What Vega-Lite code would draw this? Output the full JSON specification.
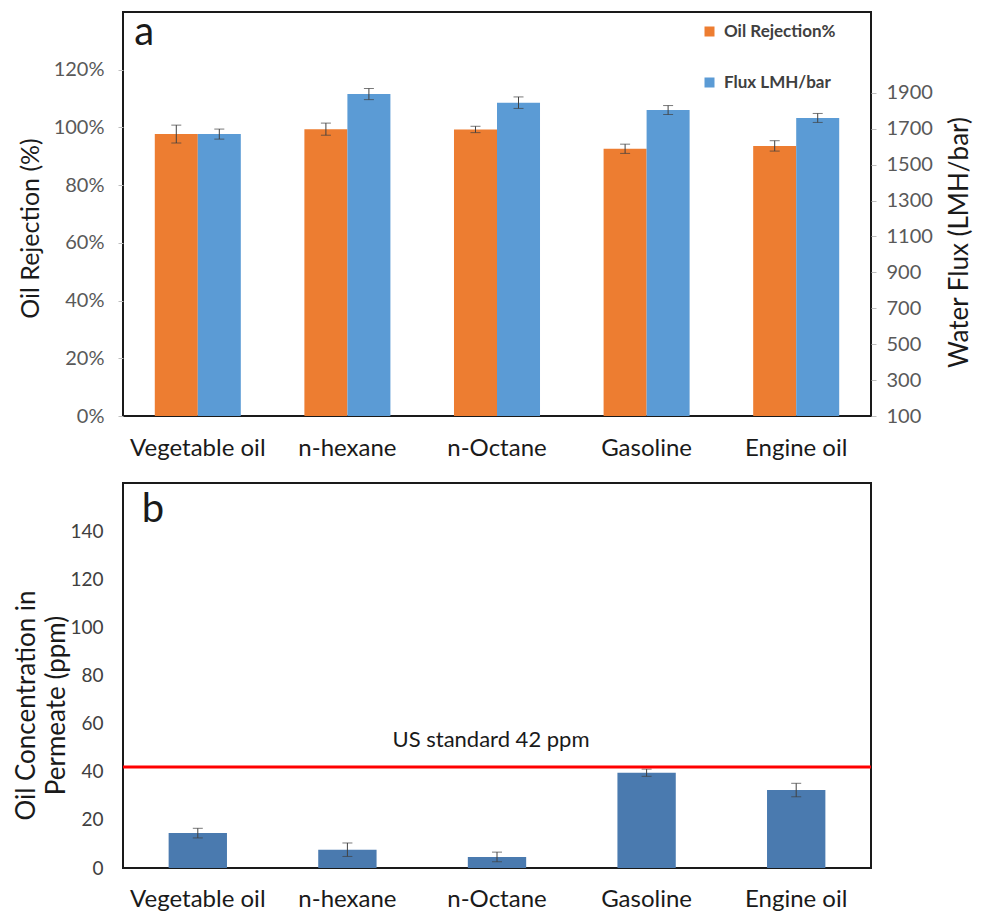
{
  "$schema": "https://vega.github.io/schema/vega-lite/v6.json",
  "background": "white",
  "padding": {"left": 12, "top": 11, "right": 3, "bottom": 0},
  "config": {
    "font": "Lato",
    "view": {"stroke": "#1a1a1a", "strokeWidth": 2},
    "axis": {"grid": false, "titleFontWeight": "normal", "titleColor": "#1a1a1a", "titleFont": "Lato", "labelFont": "Lato"}
  },
  "spacing": 21,
  "vconcat": [
    {
      "width": 748,
      "height": 404,
      "data": {"values": [
        {"cat": "Vegetable oil", "series": "Oil Rejection%", "value": 0.977, "lo": 0.946, "hi": 1.008},
        {"cat": "Vegetable oil", "series": "Flux LMH/bar", "value": 1670, "lo": 1642, "hi": 1698},
        {"cat": "n-hexane", "series": "Oil Rejection%", "value": 0.994, "lo": 0.973, "hi": 1.015},
        {"cat": "n-hexane", "series": "Flux LMH/bar", "value": 1893, "lo": 1862, "hi": 1924},
        {"cat": "n-Octane", "series": "Oil Rejection%", "value": 0.993, "lo": 0.982, "hi": 1.004},
        {"cat": "n-Octane", "series": "Flux LMH/bar", "value": 1845, "lo": 1813, "hi": 1877},
        {"cat": "Gasoline", "series": "Oil Rejection%", "value": 0.926, "lo": 0.910, "hi": 0.942},
        {"cat": "Gasoline", "series": "Flux LMH/bar", "value": 1804, "lo": 1779, "hi": 1829},
        {"cat": "Engine oil", "series": "Oil Rejection%", "value": 0.936, "lo": 0.918, "hi": 0.954},
        {"cat": "Engine oil", "series": "Flux LMH/bar", "value": 1760, "lo": 1735, "hi": 1785}
      ]},
      "encoding": {
        "x": {"field": "cat", "type": "nominal", "sort": ["Vegetable oil", "n-hexane", "n-Octane", "Gasoline", "Engine oil"],
              "scale": {"paddingInner": 0.425, "paddingOuter": 0.2125},
              "axis": {"title": null, "labelAngle": 0, "labelFontSize": 24, "labelColor": "#1a1a1a", "domain": false, "ticks": false, "labelPadding": 20}},
        "xOffset": {"field": "series", "type": "nominal", "sort": ["Oil Rejection%", "Flux LMH/bar"], "scale": {"domain": ["Oil Rejection%", "Flux LMH/bar"], "paddingInner": 0, "paddingOuter": 0}}
      },
      "layer": [
        {
          "transform": [{"filter": "datum.series === 'Oil Rejection%'"}],
          "layer": [
            {"mark": {"type": "bar"},
             "encoding": {
               "y": {"field": "value", "type": "quantitative", "scale": {"domain": [0, 1.4], "nice": false},
                     "axis": {"orient": "left", "title": "Oil Rejection (%)", "values": [0, 0.2, 0.4, 0.6, 0.8, 1.0, 1.2], "format": ".0%", "labelFontSize": 20, "labelColor": "#595959", "tickColor": "#bfbfbf", "tickSize": 5, "labelPadding": 14, "domain": false, "titleFontSize": 25, "titlePadding": 10, "titleY": 216}},
               "color": {"field": "series", "type": "nominal",
                         "scale": {"domain": ["Oil Rejection%", "Flux LMH/bar"], "range": ["#ED7D31", "#5B9BD5"]},
                         "legend": {"title": null, "orient": "none", "legendX": 578, "legendY": 11, "symbolType": "square", "symbolSize": 100, "symbolStrokeWidth": 0, "labelFontSize": 17, "labelFontWeight": "bold", "labelColor": "#404040", "rowPadding": 33, "labelOffset": 6}}
             }},
            {"mark": {"type": "rule", "color": "#404040", "strokeWidth": 1},
             "encoding": {"y": {"field": "lo", "type": "quantitative"}, "y2": {"field": "hi"}}},
            {"mark": {"type": "tick", "color": "#404040", "thickness": 1, "size": 10},
             "encoding": {"y": {"field": "lo", "type": "quantitative"}}},
            {"mark": {"type": "tick", "color": "#404040", "thickness": 1, "size": 10},
             "encoding": {"y": {"field": "hi", "type": "quantitative"}}},
            {"data": {"values": [{"cat": "Vegetable oil", "series": "Oil Rejection%", "pos": 1.4, "label": "a"}]},
             "mark": {"type": "text", "fontSize": 40, "color": "#1a1a1a", "align": "left", "baseline": "alphabetic", "dx": -42, "dy": 33},
             "encoding": {"y": {"field": "pos", "type": "quantitative"}, "text": {"field": "label"}}}
          ]
        },
        {
          "transform": [{"filter": "datum.series === 'Flux LMH/bar'"}],
          "layer": [
            {"mark": {"type": "bar"},
             "encoding": {
               "y": {"field": "value", "type": "quantitative", "scale": {"domain": [100, 2350], "nice": false, "zero": false},
                     "axis": {"orient": "right", "title": "Water Flux (LMH/bar)", "values": [100, 300, 500, 700, 900, 1100, 1300, 1500, 1700, 1900], "format": "d", "labelFontSize": 20, "labelColor": "#595959", "tickColor": "#bfbfbf", "tickSize": 5, "labelPadding": 10, "domain": false, "titleFontSize": 26, "titlePadding": 40, "titleAngle": 270, "titleY": 230}},
               "y2": {"datum": 100},
               "color": {"field": "series", "type": "nominal"}
             }},
            {"mark": {"type": "rule", "color": "#404040", "strokeWidth": 1},
             "encoding": {"y": {"field": "lo", "type": "quantitative"}, "y2": {"field": "hi"}}},
            {"mark": {"type": "tick", "color": "#404040", "thickness": 1, "size": 10},
             "encoding": {"y": {"field": "lo", "type": "quantitative"}}},
            {"mark": {"type": "tick", "color": "#404040", "thickness": 1, "size": 10},
             "encoding": {"y": {"field": "hi", "type": "quantitative"}}}
          ]
        }
      ],
      "resolve": {"scale": {"y": "independent"}}
    },
    {
      "width": 748,
      "height": 385,
      "encoding": {
        "x": {"field": "cat", "type": "nominal", "sort": ["Vegetable oil", "n-hexane", "n-Octane", "Gasoline", "Engine oil"],
              "scale": {"domain": ["Vegetable oil", "n-hexane", "n-Octane", "Gasoline", "Engine oil"], "paddingInner": 0.61, "paddingOuter": 0.305},
              "axis": {"title": null, "labelAngle": 0, "labelFontSize": 24, "labelColor": "#1a1a1a", "domain": false, "ticks": false, "labelPadding": 19}}
      },
      "layer": [
        {
          "data": {"values": [
            {"cat": "Vegetable oil", "value": 14.5, "lo": 12.5, "hi": 16.5},
            {"cat": "n-hexane", "value": 7.6, "lo": 4.8, "hi": 10.4},
            {"cat": "n-Octane", "value": 4.6, "lo": 2.6, "hi": 6.6},
            {"cat": "Gasoline", "value": 39.6, "lo": 38.1, "hi": 41.1},
            {"cat": "Engine oil", "value": 32.4, "lo": 29.6, "hi": 35.2}
          ]},
          "layer": [
            {"mark": {"type": "bar", "color": "#4A7AAF"},
             "encoding": {"y": {"field": "value", "type": "quantitative", "scale": {"domain": [0, 160], "nice": false},
                                "axis": {"title": ["Oil Concentration in", "Permeate (ppm)"], "values": [0, 20, 40, 60, 80, 100, 120, 140], "labelFontSize": 19, "labelColor": "#404040", "ticks": false, "labelPadding": 20, "domain": false, "titleFontSize": 26, "titleLineHeight": 30, "titlePadding": 0, "titleY": 222}}}},
            {"mark": {"type": "rule", "color": "#404040", "strokeWidth": 1},
             "encoding": {"y": {"field": "lo", "type": "quantitative"}, "y2": {"field": "hi"}}},
            {"mark": {"type": "tick", "color": "#404040", "thickness": 1, "size": 10},
             "encoding": {"y": {"field": "lo", "type": "quantitative"}}},
            {"mark": {"type": "tick", "color": "#404040", "thickness": 1, "size": 10},
             "encoding": {"y": {"field": "hi", "type": "quantitative"}}}
          ]
        },
        {
          "data": {"values": [{"std": 42}]},
          "mark": {"type": "rule", "color": "#FF0000", "strokeWidth": 3},
          "encoding": {"x": null, "y": {"field": "std", "type": "quantitative"}}
        },
        {
          "data": {"values": [{"cat": "n-Octane", "pos": 53, "label": "US standard 42 ppm"}]},
          "mark": {"type": "text", "fontSize": 22, "color": "#1a1a1a", "dx": -6},
          "encoding": {
            "y": {"field": "pos", "type": "quantitative"},
            "text": {"field": "label"}
          }
        },
        {
          "data": {"values": [{"cat": "Vegetable oil", "pos": 160, "label": "b"}]},
          "mark": {"type": "text", "fontSize": 40, "color": "#1a1a1a", "align": "left", "baseline": "alphabetic", "dx": -56, "dy": 39},
          "encoding": {
            "y": {"field": "pos", "type": "quantitative"},
            "text": {"field": "label"}
          }
        }
      ]
    }
  ]
}
